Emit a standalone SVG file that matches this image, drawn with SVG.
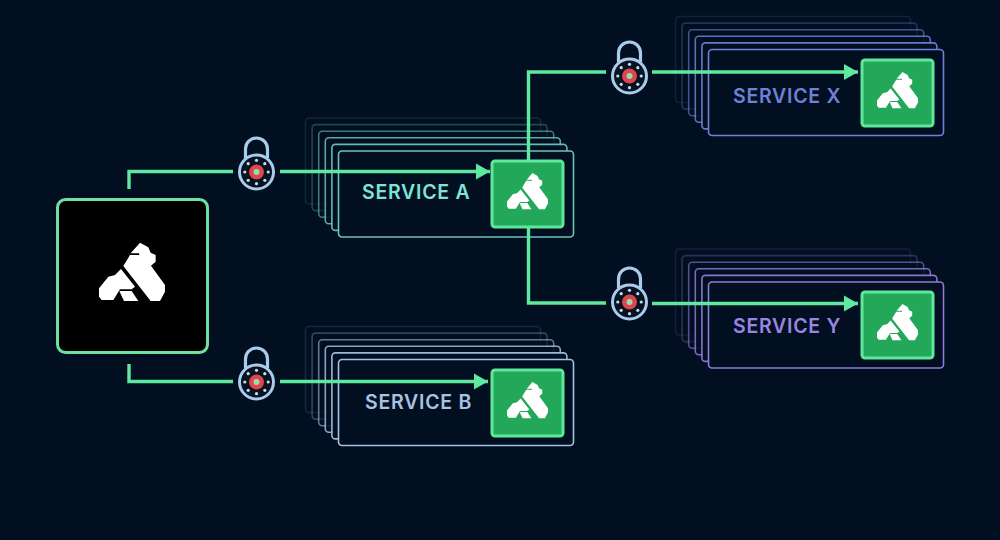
<svg xmlns="http://www.w3.org/2000/svg" width="1000" height="540" viewBox="0 0 1000 540">
<style>
.card{fill:#010f20;stroke-width:1.6}
.sa{stroke:#6cc4b8}.sb{stroke:#a5c0e2}.sx{stroke:#6f80d8}.sy{stroke:#8f7bd8}
.o1{opacity:.14}.o2{opacity:.3}.o3{opacity:.6}.o4{opacity:.85}.o5{opacity:.95}
.lbl{font-family:"Inter","Liberation Sans",sans-serif;font-size:19.5px;font-weight:600;letter-spacing:.75px}
.wire{fill:none;stroke:#5ee8a0;stroke-width:3.4}
.tile{fill:#22a858;stroke:#5fe89c;stroke-width:3}
.logo{fill:#fff}
</style>
<defs>
<marker id="arrow" markerUnits="userSpaceOnUse" markerWidth="15" markerHeight="18" refX="14" refY="8.5" orient="auto"><path d="M0,0.5L14,8.5L0,16.5Z" fill="#5ee8a0"/></marker>
<g id="kong">
<path d="M137,70L165,38L190,52L197,68L212,75L212,95L198,107L240,165L240,185L225,213L197,213L115,108L135,75L163,75L162,70Z"/>
<path d="M108,117L150,170L140,178L105,178L85,210L50,210L42,200L42,175L70,140L90,135Z"/>
<path d="M103,183L140,183L160,213L117,213Z"/>
</g>
<g id="lock">
<path d="M-11,-14V-23A11,11 0 0 1 11,-23V-14" fill="none" stroke="#a9cbec" stroke-width="3.2"/>
<circle r="17" fill="#081322" stroke="#a9cbec" stroke-width="3"/>
<circle r="7.5" fill="#e2444c"/>
<circle r="3" fill="#8fe0b0"/>
<g fill="#c5dcf2"><circle cy="-11.7" r="1.6"/><circle cy="11.7" r="1.6"/><circle cx="-11.7" r="1.6"/><circle cx="11.7" r="1.6"/><circle cx="-8.3" cy="-8.3" r="1.6"/><circle cx="8.3" cy="-8.3" r="1.6"/><circle cx="-8.3" cy="8.3" r="1.6"/><circle cx="8.3" cy="8.3" r="1.6"/></g>
</g>
<g id="stack">
<rect class="card o1" x="-33" y="-33" width="235" height="86" rx="3.5"/>
<rect class="card o2" x="-26.4" y="-26.4" width="235" height="86" rx="3.5"/>
<rect class="card o3" x="-19.8" y="-19.8" width="235" height="86" rx="3.5"/>
<rect class="card o4" x="-13.2" y="-13.2" width="235" height="86" rx="3.5"/>
<rect class="card o5" x="-6.6" y="-6.6" width="235" height="86" rx="3.5"/>
<rect class="card" x="0" y="0" width="235" height="86" rx="3.5"/>
</g>
</defs>
<rect width="1000" height="540" fill="#010f20"/>
<g id="gateway">
<rect x="57.5" y="199.5" width="150" height="153" rx="8" fill="#000" stroke="#6fe0a0" stroke-width="3"/>
<use href="#kong" class="logo" transform="translate(85 230) scale(.3333)"/>
</g>
<g id="service-a">
<use href="#stack" class="sa" x="338.5" y="151"/>
<text class="lbl" x="362" y="198.5" fill="#7fe4d4">SERVICE A</text>
<rect class="tile" x="492" y="161" width="71" height="66" rx="3"/>
<use href="#kong" class="logo" transform="translate(498.3 165.2) scale(.207)"/>
</g>
<g id="service-b">
<use href="#stack" class="sb" x="338.5" y="359.5"/>
<text class="lbl" x="365" y="408.5" fill="#a9c2e2">SERVICE B</text>
<rect class="tile" x="492" y="370" width="71" height="66" rx="3"/>
<use href="#kong" class="logo" transform="translate(498.3 374.2) scale(.207)"/>
</g>
<g id="service-x">
<use href="#stack" class="sx" x="708.5" y="49.5"/>
<text class="lbl" x="733" y="102.5" fill="#6f80d8">SERVICE X</text>
<rect class="tile" x="862" y="60" width="71" height="66" rx="3"/>
<use href="#kong" class="logo" transform="translate(868.3 64.2) scale(.207)"/>
</g>
<g id="service-y">
<use href="#stack" class="sy" x="708.5" y="282"/>
<text class="lbl" x="733" y="332.5" fill="#9a86e2">SERVICE Y</text>
<rect class="tile" x="862" y="292" width="71" height="66" rx="3"/>
<use href="#kong" class="logo" transform="translate(868.3 296.2) scale(.207)"/>
</g>
<g id="connectors">
<path class="wire" d="M129,189V171.5H233"/>
<path class="wire" d="M280,171.5H490" marker-end="url(#arrow)"/>
<path class="wire" d="M129,364V381.5H233"/>
<path class="wire" d="M280,381.5H488" marker-end="url(#arrow)"/>
<path class="wire" d="M528.5,160V72H606"/>
<path class="wire" d="M652,72H858" marker-end="url(#arrow)"/>
<path class="wire" d="M528.5,228V303H606"/>
<path class="wire" d="M652,303.5H858" marker-end="url(#arrow)"/>
</g>
<g id="lock-a"><use href="#lock" x="256.5" y="172"/></g>
<g id="lock-b"><use href="#lock" x="256.5" y="382"/></g>
<g id="lock-x"><use href="#lock" x="629.5" y="76"/></g>
<g id="lock-y"><use href="#lock" x="629.5" y="302"/></g>
</svg>
